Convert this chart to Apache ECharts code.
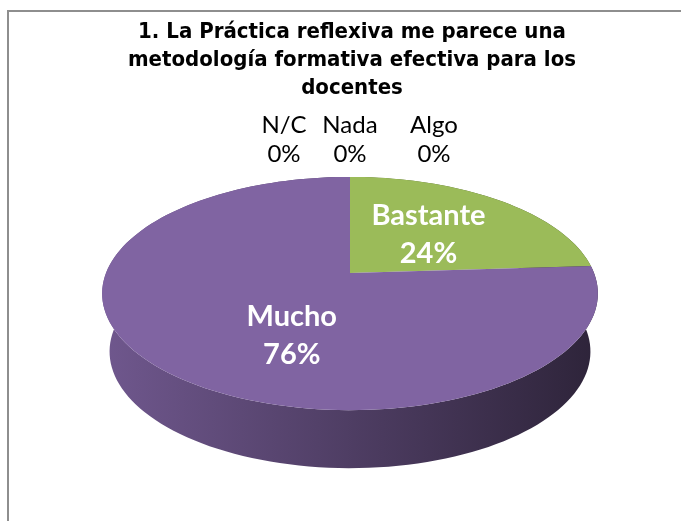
<!DOCTYPE html>
<html>
<head>
<meta charset="utf-8">
<script src="https://cdn.jsdelivr.net/npm/echarts@6/dist/echarts.min.js"></script>
<style>
html, body { margin: 0; padding: 0; background: #fff; }
#chart { width: 681px; height: 521px; }
</style>
</head>
<body>
<div id="chart"></div>
<script>
// data
var categories = ['Nada', 'Algo', 'Bastante', 'Mucho', 'N/C'];
var percents = [0, 0, 24, 76, 0];
var titleLines = [
    '1. La Práctica reflexiva me parece una',
    'metodología formativa efectiva para los',
    'docentes'
];

// excel 2007 default palette
var palette = ['#4F81BD', '#C0504D', '#9BBB59', '#8064A2', '#4BACC6'];

// fake 3d pie (perspective ellipse), px
var geo = { cx: 350, cy: 273, a: 244, b: 113, k: 0.176, depth: 58, bottomShrink: 0.97 };
var labelFont = 'Lato, "Open Sans", sans-serif';
var labelNudge = { Mucho: [31, 19] };
var zeroStepRight = 84, zeroStepLeft = 66;

var total = percents.reduce(function(s, v) { return s + v; }, 0);
var starts = [];
(function() {
    var c = 0;
    percents.forEach(function(v) { starts.push(c); c += v; });
})();

function shade(color, f) {
    var c = echarts.color.parse(color);
    return 'rgb(' + Math.round(c[0] * f) + ',' + Math.round(c[1] * f) + ',' + Math.round(c[2] * f) + ')';
}

function proj(theta, r, bottom) {
    var u = r * Math.sin(theta), v = -r * Math.cos(theta);
    var s = 1 / (1 - geo.k * v);
    var a = bottom ? geo.a * geo.bottomShrink : geo.a;
    return [geo.cx + a * u * s, geo.cy + (bottom ? geo.depth : 0) + geo.b * v * s];
}

function renderItem(params, api) {
    var i = params.dataIndex;
    var val = api.value(1);
    var name = categories[i];
    var color = api.visual('color');
    var t0 = 2 * Math.PI * starts[i] / total;
    var t1 = 2 * Math.PI * (starts[i] + val) / total;
    var children = [];

    if (val > 0) {
        var n = Math.max(2, Math.ceil((t1 - t0) / (2 * Math.PI) * 180));
        var topArc = [], botArc = [];
        for (var j = 0; j <= n; j++) {
            var t = t0 + (t1 - t0) * j / n;
            topArc.push(proj(t, 1, false));
            botArc.push(proj(t, 1, true));
        }
        // side wall: darker toward the right like excel's lighting
        var side = {
            type: 'linear', global: true,
            x: geo.cx - geo.a, y: 0, x2: geo.cx + geo.a, y2: 0,
            colorStops: [
                { offset: 0, color: shade(color, 0.87) },
                { offset: 1, color: shade(color, 0.36) }
            ]
        };
        children.push({
            type: 'polygon', z2: 1,
            shape: { points: topArc.concat(botArc.slice().reverse()) },
            style: { fill: side }
        });
        children.push({
            type: 'polygon', z2: 5,
            shape: { points: [proj(0, 0, false)].concat(topArc) },
            style: { fill: color }
        });
        var p = proj((t0 + t1) / 2, 0.5, false);
        var off = labelNudge[name] || [0, 0];
        children.push({
            type: 'text', z2: 10,
            style: {
                text: name + '\n' + val + '%',
                x: p[0] + off[0], y: p[1] + off[1],
                align: 'center', verticalAlign: 'middle',
                fill: '#fff', font: 'bold 29px ' + labelFont, lineHeight: 38
            }
        });
    } else {
        // zero slices: stack the labels above the rim
        var top = proj(t0, 1, false);
        var x = top[0];
        if (starts[i] === 0) {
            var k = 0;
            for (var q = 0; q < i; q++) if (percents[q] === 0 && starts[q] === 0) k++;
            x = geo.cx + k * zeroStepRight;
        } else if (starts[i] === total) {
            var m = 1;
            for (var w = i + 1; w < percents.length; w++) if (percents[w] === 0) m++;
            x = geo.cx - m * zeroStepLeft;
        }
        children.push({
            type: 'text', z2: 10,
            style: {
                text: name + '\n0%',
                x: x, y: top[1] - 37,
                align: 'center', verticalAlign: 'middle',
                fill: '#000', font: '24px ' + labelFont, lineHeight: 29
            }
        });
    }
    return { type: 'group', children: children };
}

var chart = echarts.init(document.getElementById('chart'));
chart.setOption({
    backgroundColor: '#fff',
    animation: false,
    title: {
        text: titleLines.join('\n'),
        left: 352,
        top: 18,
        textAlign: 'center',
        padding: 0,
        textStyle: {
            fontFamily: '"DejaVu Sans Condensed", "DejaVu Sans", sans-serif',
            fontWeight: 'bold',
            fontSize: 22,
            lineHeight: 28,
            color: '#000'
        }
    },
    graphic: [
        { type: 'line', z: -1, shape: { x1: 8, y1: 11, x2: 681, y2: 11 }, style: { stroke: '#8e8e8e', lineWidth: 2 } },
        { type: 'line', z: -1, shape: { x1: 8, y1: 10, x2: 8, y2: 521 }, style: { stroke: '#8e8e8e', lineWidth: 2 } }
    ],
    series: [{
        type: 'custom',
        coordinateSystem: 'none',
        renderItem: renderItem,
        data: categories.map(function(c, i) {
            return { name: c, value: [i, percents[i]], itemStyle: { color: palette[i] } };
        })
    }]
});
</script>
</body>
</html>
